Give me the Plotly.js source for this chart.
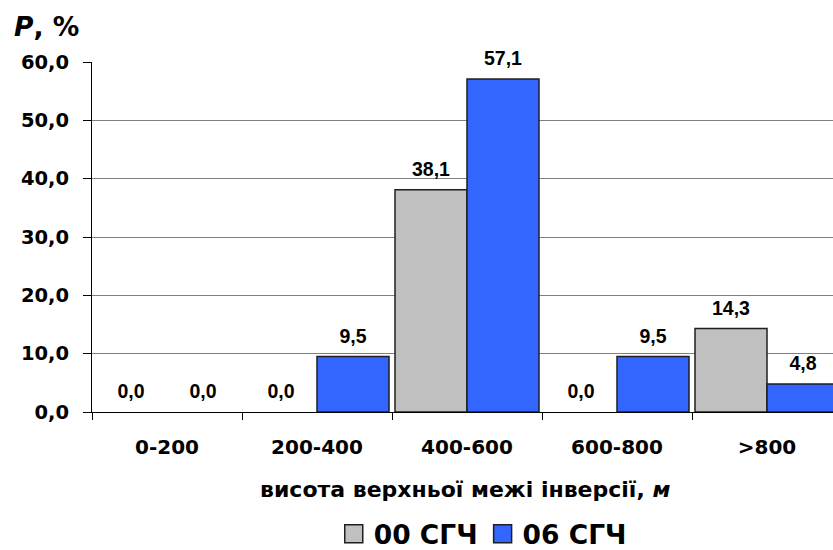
<!DOCTYPE html>
<html>
<head>
<meta charset="utf-8">
<script src="https://cdn.plot.ly/plotly-3.0.1.min.js"></script>
<style>
  html, body { margin: 0; padding: 0; overflow: hidden; background: #fff; }
  #chart { width: 850px; height: 550px; }
</style>
</head>
<body>
<div id="chart"></div>
<script>
// Height ranges of the inversion upper boundary
const categories = ['0-200', '200-400', '400-600', '600-800', '>800'];
// Recurrence, %
const series00 = [0.0, 0.0, 38.1, 0.0, 14.3];
const series06 = [0.0, 9.5, 57.1, 9.5, 4.8];
const seriesNames = ['00 СГЧ', '06 СГЧ'];
const yTicks = [0, 10, 20, 30, 40, 50, 60];

const WIDE = 'DejaVu Sans, Verdana, sans-serif';
const NARROW = 'Liberation Sans, Arial, sans-serif';
const GREY = '#C0C0C0';
const BLUE = '#3366FF';
const EDGE = '#1f1f1f';

function barTrace(name, values, color) {
  return {
    type: 'bar', name: name, x: categories, y: values,
    // empty bars get no outline so the baseline stays a single thin line
    marker: { color: color, line: { color: EDGE, width: values.map(v => v === 0 ? 0 : 1.5) } },
    hoverinfo: 'skip'
  };
}

// value labels placed above each bar, grouped like the bars
function labelTrace(values) {
  return {
    type: 'scatter', mode: 'markers+text', x: categories, y: values,
    text: values.map(v => v.toFixed(1).replace('.', ',')),
    textposition: 'top center',
    textfont: { family: NARROW, size: 19.5, color: '#000', weight: 'bold' },
    marker: { size: 13, opacity: 0 },
    cliponaxis: false, showlegend: false, hoverinfo: 'skip'
  };
}

const data = [
  barTrace(seriesNames[0], series00, GREY),
  barTrace(seriesNames[1], series06, BLUE),
  labelTrace(series00),
  labelTrace(series06)
];

const layout = {
  width: 850, height: 550,
  margin: { l: 92, r: 8, t: 62, b: 138 },
  paper_bgcolor: '#fff', plot_bgcolor: '#fff',
  font: { family: WIDE, color: '#000' },
  separators: ', ',
  barmode: 'group', bargap: 0.04, bargroupgap: 0,
  scattermode: 'group',
  showlegend: true,
  legend: {
    orientation: 'h', xref: 'paper', x: 0.521, xanchor: 'center',
    yref: 'container', y: 0.029, yanchor: 'middle',
    font: { family: WIDE, size: 26.5, weight: 'bold' },
    itemclick: false
  },
  xaxis: {
    type: 'category', automargin: false,
    showline: true, linecolor: '#000', linewidth: 1,
    ticks: 'outside', tickson: 'boundaries', ticklen: 7, tickcolor: '#000', tickwidth: 1,
    ticklabelstandoff: 17,
    tickfont: { family: WIDE, size: 20, weight: 'bold' },
    showgrid: false, zeroline: false
  },
  yaxis: {
    range: [0, 60], tickvals: yTicks, tickformat: '.1f', automargin: false,
    showline: true, linecolor: '#000', linewidth: 1,
    ticks: 'outside', ticklen: 8, tickcolor: '#000', tickwidth: 1,
    ticklabelstandoff: 10,
    tickfont: { family: WIDE, size: 19.5, weight: 'bold' },
    showgrid: true, gridcolor: '#808080', gridwidth: 1,
    zeroline: false
  },
  annotations: [
    {
      // y-axis caption
      xref: 'paper', yref: 'paper', x: -0.107, y: 1.1,
      xanchor: 'left', yanchor: 'middle', showarrow: false,
      text: '<b><i>P</i>, %</b>',
      font: { family: WIDE, size: 26.5, color: '#000' }
    },
    {
      // x-axis caption
      xref: 'paper', yref: 'paper', x: 0.497, y: -0.22,
      xanchor: 'center', yanchor: 'middle', showarrow: false,
      text: '<b>висота верхньої межі інверсії, <i>м</i></b>',
      font: { family: WIDE, size: 22, color: '#000' }
    }
  ]
};

Plotly.newPlot('chart', data, layout, { displayModeBar: false, staticPlot: true }).then(gd => {
  // larger outlined square legend swatches
  gd.querySelectorAll('.legend .legendpoints path').forEach(p => {
    p.setAttribute('d', 'M9,9H-9V-9H9Z');
    p.style.stroke = EDGE;
    p.style.strokeWidth = '1.5px';
    p.style.strokeOpacity = '1';
  });
});
</script>
</body>
</html>
